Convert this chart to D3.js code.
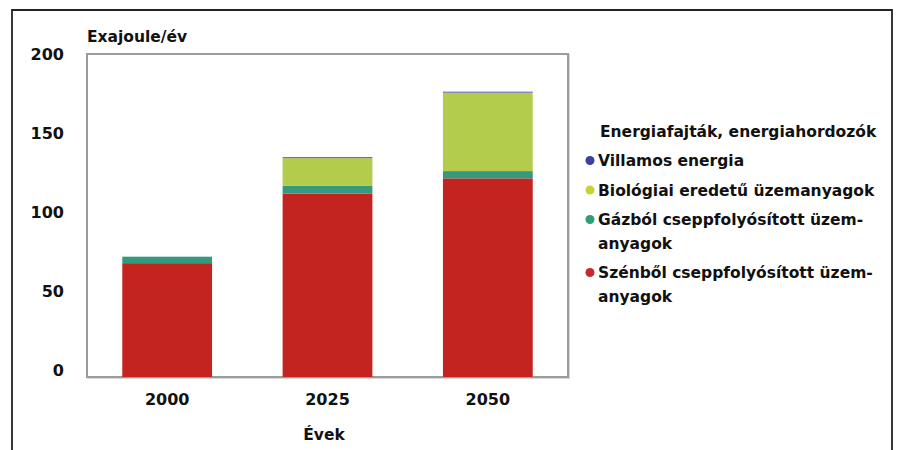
<!DOCTYPE html>
<html>
<head>
<meta charset="utf-8">
<script src="https://cdn.jsdelivr.net/npm/d3@7"></script>
<style>
  html, body { margin: 0; padding: 0; background: #fff; }
  svg { display: block; }
  text { font-family: "DejaVu Sans", sans-serif; font-weight: bold; fill: #111; }
</style>
</head>
<body>
<svg id="chart" width="897" height="450"></svg>
<script>
// Energy consumption by carrier, exajoule per year
const years = ["2000", "2025", "2050"];
const coalLiquids = [70.5, 113.5, 123];     // Szénből cseppfolyósított üzemanyagok
const gasLiquids = [4, 5, 4.5];             // Gázból cseppfolyósított üzemanyagok
const biofuels = [0, 17, 48.5];             // Biológiai eredetű üzemanyagok
const electricity = [0, 0.7, 0.7];          // Villamos energia
const yTicks = [0, 50, 100, 150, 200];

const seriesKeys = ["coal", "gas", "bio", "elec"];
const barColors = { coal: "#c4241f", gas: "#349a7e", bio: "#b3cc4c", elec: "#6b6ba8" };

const legendTitle = "Energiafajták, energiahordozók";
const legendItems = [
  { lines: ["Villamos energia"], color: "#3c3f9c" },
  { lines: ["Biológiai eredetű üzemanyagok"], color: "#c6d42f" },
  { lines: ["Gázból cseppfolyósított üzem-", "anyagok"], color: "#2d9f78" },
  { lines: ["Szénből cseppfolyósított üzem-", "anyagok"], color: "#c9282a" }
];

const rows = years.map((y, i) => ({
  year: y, coal: coalLiquids[i], gas: gasLiquids[i], bio: biofuels[i], elec: electricity[i]
}));

const svg = d3.select("#chart");

// outer frame (open at the bottom)
svg.append("path")
  .attr("d", "M12,450 V10 H892 V450")
  .attr("fill", "none")
  .attr("stroke", "#222")
  .attr("stroke-width", 1.8);

const plot = { left: 87, top: 54, right: 568, bottom: 377 };

const x = d3.scaleBand()
  .domain(years)
  .range([plot.left, plot.right])
  .paddingInner(0.44)
  .paddingOuter(0.22);

const y = d3.scaleLinear().domain([0, 200]).range([plot.bottom, plot.top]);
// tick labels sit on their own slightly tighter scale
const yLabel = d3.scaleLinear().domain([0, 200]).range([370, 54]);

// plot box with a soft shadow
svg.append("rect")
  .attr("x", plot.left + 1).attr("y", plot.top + 1)
  .attr("width", plot.right - plot.left).attr("height", plot.bottom - plot.top)
  .attr("fill", "none").attr("stroke", "#d8d8d8").attr("stroke-width", 2);
svg.append("rect")
  .attr("x", plot.left).attr("y", plot.top)
  .attr("width", plot.right - plot.left).attr("height", plot.bottom - plot.top)
  .attr("fill", "#fff").attr("stroke", "#9c9c9c").attr("stroke-width", 2);

// stacked bars
const stacked = d3.stack().keys(seriesKeys)(rows);
svg.append("g").selectAll("g")
  .data(stacked)
  .join("g")
  .attr("fill", d => barColors[d.key])
  .selectAll("rect")
  .data(d => d)
  .join("rect")
  .attr("x", d => x(d.data.year))
  .attr("width", x.bandwidth())
  .attr("y", d => y(d[1]))
  .attr("height", d => Math.max(0, y(d[0]) - y(d[1])));

// y axis labels
const yAxis = d3.axisLeft(yLabel).tickValues(yTicks).tickSize(0).tickPadding(0);
const gy = svg.append("g").attr("transform", "translate(64,0)").call(yAxis);
gy.select(".domain").remove();
gy.selectAll("text")
  .attr("font-size", 16)
  .attr("font-family", "DejaVu Sans, sans-serif")
  .attr("font-weight", "bold")
  .attr("fill", "#111")
  .attr("dy", "0.36em");

// x axis labels
const xAxis = d3.axisBottom(x).tickSize(0).tickPadding(0);
const gx = svg.append("g").attr("transform", "translate(0,393)").call(xAxis);
gx.select(".domain").remove();
gx.selectAll("text")
  .attr("font-size", 16)
  .attr("font-family", "DejaVu Sans, sans-serif")
  .attr("font-weight", "bold")
  .attr("fill", "#111")
  .attr("dy", "0.78em");

// axis titles
svg.append("text").attr("x", 87).attr("y", 42).attr("font-size", 15.5).text("Exajoule/év");
svg.append("text").attr("x", 324).attr("y", 440).attr("font-size", 15.5)
  .attr("text-anchor", "middle").text("Évek");

// legend
const legend = svg.append("g");
legend.append("text").attr("x", 600).attr("y", 136.5).attr("font-size", 15.5).text(legendTitle);
const itemBaselines = [166, 195.5, 225, 278];
legendItems.forEach((item, i) => {
  const by = itemBaselines[i];
  legend.append("circle")
    .attr("cx", 590).attr("cy", by - 5.5).attr("r", 4.5)
    .attr("fill", item.color);
  item.lines.forEach((line, j) => {
    legend.append("text")
      .attr("x", 598).attr("y", by + j * 23.5)
      .attr("font-size", 15.5)
      .text(line);
  });
});
</script>
</body>
</html>
